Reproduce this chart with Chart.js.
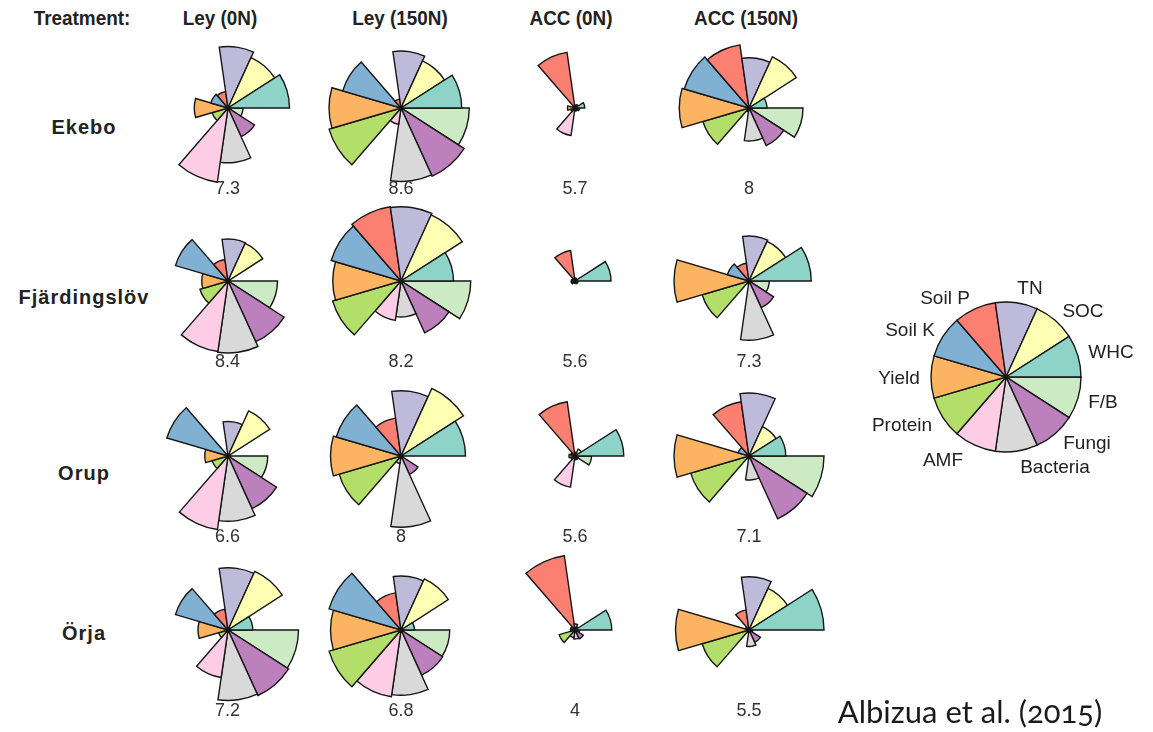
<!DOCTYPE html>
<html>
<head>
<meta charset="utf-8">
<script src="https://cdn.jsdelivr.net/npm/chart.js"></script>
<style>
  html, body { margin: 0; padding: 0; background: #ffffff; }
  #fig { position: relative; width: 1153px; height: 732px; overflow: hidden; background: #ffffff; }
  #fig canvas { position: absolute; }
  .txt { position: absolute; transform: translate(-50%, -50%); white-space: nowrap; color: #222; }
  .head { font-family: "Liberation Sans", Arial, sans-serif; font-weight: bold; font-size: 21px; transform: translate(-50%, -50%) scaleX(0.9); }
  .site { font-family: "Liberation Sans", Arial, sans-serif; font-weight: bold; font-size: 20px; letter-spacing: 1px; }
  .score { font-family: "Liberation Sans", Arial, sans-serif; font-size: 18px; color: #333; }
  .key { font-family: "Liberation Sans", Arial, sans-serif; font-size: 19px; color: #222; }
  .cite { font-family: Lato, "Open Sans", sans-serif; font-size: 31px; color: #1a1a1a; font-variant-numeric: oldstyle-nums; }
</style>
</head>
<body>
<div id="fig"></div>
<script>
// Soil and crop measures, listed clockwise starting at 3 o'clock
const measures = ['F/B', 'Fungi', 'Bacteria', 'AMF', 'Protein', 'Yield', 'Soil K', 'Soil P', 'TN', 'SOC', 'WHC'];
const measureColors = ['#CCEBC5', '#BC80BD', '#D9D9D9', '#FCCDE5', '#B3DE69', '#FDB462', '#80B1D3', '#FB8072', '#BEBADA', '#FFFFB3', '#8DD3C7'];

const treatments = ['Ley (0N)', 'Ley (150N)', 'ACC (0N)', 'ACC (150N)'];
const sites = ['Ekebo', 'Fjärdingslöv', 'Orup', 'Örja'];

// Scaled values (0-1) per site and treatment, in the order of `measures`
const ekeboLey0     = [0.20, 0.42, 0.73, 1.00, 0.22, 0.45, 0.24, 0.22, 0.82, 0.74, 0.82];
const ekeboLey150   = [0.91, 1.00, 0.98, 0.22, 1.00, 0.96, 0.81, 0.12, 0.76, 0.69, 0.81];
const ekeboAcc0     = [0.06, 0.04, 0.04, 0.37, 0.06, 0.10, 0.03, 0.75, 0.04, 0.05, 0.13];
const ekeboAcc150   = [0.72, 0.55, 0.44, 0.05, 0.64, 0.93, 0.90, 0.85, 0.67, 0.75, 0.24];
const fjardLey0     = [0.66, 0.89, 0.96, 0.95, 0.39, 0.35, 0.73, 0.29, 0.56, 0.55, 0.03];
const fjardLey150   = [0.93, 0.76, 0.48, 0.53, 0.95, 0.91, 0.97, 1.00, 0.99, 0.97, 0.70];
const fjardAcc0     = [0.04, 0.04, 0.03, 0.03, 0.05, 0.05, 0.04, 0.41, 0.04, 0.03, 0.48];
const fjardAcc150   = [0.27, 0.39, 0.79, 0.04, 0.65, 1.00, 0.30, 0.24, 0.60, 0.58, 0.83];
const orupLey0      = [0.53, 0.77, 0.87, 0.99, 0.22, 0.31, 0.85, 0.03, 0.46, 0.66, 0.03];
const orupLey150    = [0.03, 0.27, 0.95, 0.10, 0.86, 0.94, 0.90, 0.51, 0.87, 0.99, 0.86];
const orupAcc0      = [0.22, 0.05, 0.05, 0.42, 0.06, 0.08, 0.06, 0.73, 0.05, 0.10, 0.65];
const orupAcc150    = [1.00, 0.92, 0.32, 0.04, 0.81, 1.00, 0.15, 0.73, 0.84, 0.43, 0.49];
const orjaLey0      = [0.94, 0.96, 0.94, 0.64, 0.13, 0.40, 0.73, 0.28, 0.83, 0.86, 0.33];
const orjaLey150    = [0.65, 0.66, 0.87, 0.90, 1.00, 0.94, 1.00, 0.50, 0.72, 0.75, 0.18];
const orjaAcc0      = [0.06, 0.13, 0.12, 0.10, 0.22, 0.06, 0.06, 1.00, 0.08, 0.05, 0.49];
const orjaAcc150    = [0.05, 0.18, 0.22, 0.04, 0.65, 0.98, 0.05, 0.27, 0.71, 0.61, 1.00];

// Multifunctionality score printed under each rose
const scoresLey0   = ['7.3', '8.4', '6.6', '7.2'];
const scoresLey150 = ['8.6', '8.2', '8', '6.8'];
const scoresAcc0   = ['5.7', '5.6', '5.6', '4'];
const scoresAcc150 = ['8', '7.3', '7.1', '5.5'];

// Key: every measure drawn at full length
const keyValues = [1, 1, 1, 1, 1, 1, 1, 1, 1, 1, 1];

const grid = [
  [ekeboLey0, ekeboLey150, ekeboAcc0, ekeboAcc150],
  [fjardLey0, fjardLey150, fjardAcc0, fjardAcc150],
  [orupLey0, orupLey150, orupAcc0, orupAcc150],
  [orjaLey0, orjaLey150, orjaAcc0, orjaAcc150]
];
const scoreCols = [scoresLey0, scoresLey150, scoresAcc0, scoresAcc150];

const fig = document.getElementById('fig');
const colX = [227.5, 401, 575, 749];
const rowY = [107.5, 281, 456, 630];
const SIZE = 170, PAD = 10;

function addText(text, cls, x, y) {
  const d = document.createElement('div');
  d.className = 'txt ' + cls;
  d.textContent = text;
  d.style.left = x + 'px';
  d.style.top = y + 'px';
  fig.appendChild(d);
}

function rose(values, cx, cy) {
  const c = document.createElement('canvas');
  c.width = SIZE; c.height = SIZE;
  c.style.width = SIZE + 'px'; c.style.height = SIZE + 'px';
  c.style.left = (cx - SIZE / 2) + 'px';
  c.style.top = (cy - SIZE / 2) + 'px';
  fig.appendChild(c);
  new Chart(c, {
    type: 'polarArea',
    data: {
      labels: measures,
      datasets: [{
        data: values,
        backgroundColor: measureColors,
        borderColor: '#161616',
        borderWidth: 1.4,
        borderJoinStyle: 'miter'
      }]
    },
    options: {
      responsive: false,
      animation: false,
      devicePixelRatio: 1,
      layout: { padding: PAD },
      plugins: { legend: { display: false }, tooltip: { enabled: false } },
      scales: {
        r: { display: false, min: 0, max: 1, startAngle: 90 }
      }
    }
  });
}

// Column and row headings
addText('Treatment:', 'head', 82, 18);
const headX = [220, 400, 571, 746];
treatments.forEach((t, i) => addText(t, 'head', headX[i], 18));
const siteY = [127, 297, 473, 633];
sites.forEach((s, i) => addText(s, 'site', 84, siteY[i]));

// Rose grid with scores
grid.forEach((row, r) => {
  row.forEach((vals, k) => {
    rose(vals, colX[k], rowY[r]);
    addText(scoreCols[k][r], 'score', colX[k], rowY[r] + 80);
  });
});

// Key rose with measure names
rose(keyValues, 1005.5, 376.5);
const keyPos = {
  'TN': [1030, 288], 'SOC': [1083, 311], 'WHC': [1111, 352], 'F/B': [1103, 402],
  'Fungi': [1087, 443], 'Bacteria': [1055, 467], 'AMF': [943, 460], 'Protein': [902, 425],
  'Yield': [899, 378], 'Soil K': [910, 330], 'Soil P': [945, 298]
};
measures.forEach(m => addText(m, 'key', keyPos[m][0], keyPos[m][1]));

addText('Albizua et al. (2015)', 'cite', 970, 711);
</script>
</body>
</html>
